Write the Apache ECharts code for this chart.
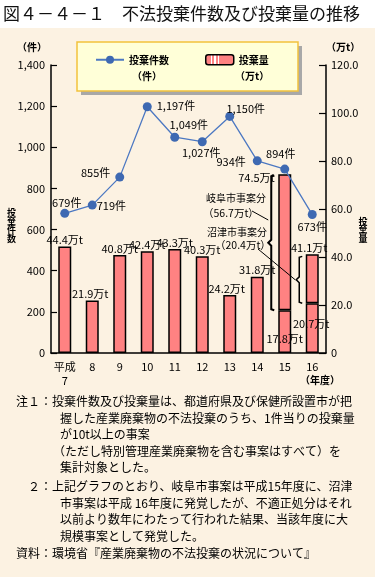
<!DOCTYPE html>
<html>
<head>
<meta charset="utf-8">
<script src="https://cdn.jsdelivr.net/npm/echarts@6/dist/echarts.min.js"></script>
<style>
  html, body { margin: 0; padding: 0; }
  #main { width: 375px; height: 577px; }
</style>
</head>
<body>
<div id="main"></div>
<script>
// fiscal years (平成)
var years = ['平成\n7', '8', '9', '10', '11', '12', '13', '14', '15', '16'];
// 投棄件数 (件)
var caseCounts = [679, 719, 855, 1197, 1049, 1027, 1150, 934, 894, 673];
// 投棄量 (万t), ordinary part
var amountBase = [44.4, 21.9, 40.8, 42.4, 43.3, 40.3, 24.2, 31.8, 17.8, 20.7];
// 投棄量 (万t), large single cases (岐阜市 / 沼津市)
var amountLarge = [null, null, null, null, null, null, null, null, 56.7, 20.4];

var FONT = '"Noto Sans CJK JP", "Noto Sans", sans-serif';
var PINK = '#FF8282';

// where each line label sits
var caseLabelPos = ['top', 'right', 'left', 'right', 'top', 'bottom', 'top', 'left', 'top', 'bottom'];
var caseLabelOff = [[2, 4], [-5, 1], [0, -4], [0, -1], [14, 3], [-1, -4], [16, 7], [-2, 1], [-4, 0], [0, -3]];

var legendStripe = new echarts.graphic.LinearGradient(0, 0, 1, 0, [
  { offset: 0, color: PINK }, { offset: 0.2, color: PINK },
  { offset: 0.2, color: '#fff' }, { offset: 0.24, color: '#fff' },
  { offset: 0.24, color: PINK }, { offset: 0.32, color: PINK },
  { offset: 0.32, color: '#fff' }, { offset: 0.36, color: '#fff' },
  { offset: 0.36, color: PINK }, { offset: 0.44, color: PINK },
  { offset: 0.44, color: '#fff' }, { offset: 0.48, color: '#fff' },
  { offset: 0.48, color: PINK }, { offset: 1, color: PINK }
]);

var baseData = amountBase.map(function (v, i) {
  var item = { value: v, label: { show: true, position: 'top', distance: 1 } };
  if (i === 1) item.label.offset = [-2, 0];
  if (i === 6) item.label.offset = [-3, 0];
  if (i === 8) { item.label.position = 'insideBottom'; item.label.offset = [0, -8]; }
  if (i === 9) { item.label.position = 'inside'; item.label.offset = [-1, -4]; }
  return item;
});

var largeData = amountLarge.map(function (v, i) {
  if (v === null) return null;
  var item = { value: v, label: { show: true, position: 'top', distance: 1, offset: [-3, 0] } };
  if (i === 8) {
    item.label = { show: true, position: [-40, -2], align: 'left', verticalAlign: 'top' };
  }
  return item;
});

var caseData = caseCounts.map(function (v, i) {
  return { value: v, label: { show: true, position: caseLabelPos[i], offset: caseLabelOff[i] } };
});

var chart = echarts.init(document.getElementById('main'));

var option = {
  backgroundColor: '#FCF2E2',
  animation: false,
  textStyle: { fontFamily: FONT },
  grid: { left: 51, right: 49, top: 65, bottom: 224 },
  legend: {
    left: 77,
    top: 42,
    padding: [12, 30, 23, 18],
    itemGap: 36,
    itemWidth: 28,
    itemHeight: 10,
    backgroundColor: 'transparent',
    textStyle: { fontSize: 10, fontWeight: 'bold', color: '#000', fontFamily: FONT },
    data: [
      { name: '投棄件数' },
      { name: '投棄量', itemStyle: { color: legendStripe, borderColor: '#000', borderWidth: 1.5 } }
    ]
  },
  xAxis: {
    type: 'category',
    data: years,
    boundaryGap: true,
    axisLine: { lineStyle: { color: '#000', width: 1.5 } },
    axisTick: { inside: true, length: 8, interval: 0, lineStyle: { color: '#000', width: 1.2 } },
    axisLabel: { interval: 0, color: '#000', fontSize: 11, margin: 7, lineHeight: 14, fontFamily: FONT }
  },
  yAxis: [
    {
      type: 'value',
      min: 0, max: 1400, interval: 200,
      splitLine: { show: false },
      axisLine: { show: true, lineStyle: { color: '#000', width: 1.5 } },
      axisTick: { show: true, inside: true, length: 6, lineStyle: { color: '#000', width: 1.2 } },
      axisLabel: {
        color: '#000', fontSize: 11, margin: 6, fontFamily: FONT,
        formatter: function (v) { return v.toLocaleString('en-US'); }
      }
    },
    {
      type: 'value',
      min: 0, max: 120, interval: 20,
      splitLine: { show: false },
      axisLine: { show: true, lineStyle: { color: '#000', width: 1.5 } },
      axisTick: { show: true, inside: true, length: 7, lineStyle: { color: '#000', width: 1.2 } },
      axisLabel: {
        color: '#000', fontSize: 11, margin: 5, fontFamily: FONT,
        formatter: function (v) { return v === 0 ? '0' : v.toFixed(1); }
      }
    }
  ],
  series: [
    {
      name: '投棄量',
      type: 'bar',
      yAxisIndex: 1,
      stack: 'amount',
      barWidth: 13,
      data: baseData,
      itemStyle: { color: PINK, borderColor: '#000', borderWidth: 1.5 },
      label: {
        color: '#000', fontSize: 11, fontFamily: FONT,
        formatter: function (p) { return p.value.toFixed(1) + '万t'; }
      },
      z: 2
    },
    {
      name: '投棄量',
      type: 'bar',
      yAxisIndex: 1,
      stack: 'amount',
      barWidth: 13,
      data: largeData,
      itemStyle: { color: PINK, borderColor: '#000', borderWidth: 1.5 },
      label: {
        color: '#000', fontSize: 11, fontFamily: FONT,
        formatter: function (p) {
          return (amountBase[p.dataIndex] + p.value).toFixed(1) + '万t';
        }
      },
      z: 2
    },
    {
      name: '投棄件数',
      type: 'line',
      yAxisIndex: 0,
      data: caseData,
      symbol: 'circle',
      symbolSize: 9,
      lineStyle: { color: '#4C78C2', width: 1.3 },
      itemStyle: { color: '#3E69B2' },
      label: {
        color: '#000', fontSize: 11, fontFamily: FONT,
        formatter: function (p) { return p.value.toLocaleString('en-US') + '件'; }
      },
      z: 5
    }
  ]
};

chart.setOption(option);

// helpers for the decorative parts
function txt(x, y, s, size, extra) {
  var st = {
    text: s, fill: '#000', fontFamily: FONT, fontSize: size,
    align: 'left', verticalAlign: 'middle'
  };
  for (var k in extra) st[k] = extra[k];
  return { type: 'text', x: x, y: y, style: st, z: 10 };
}
function pxAt(i, v) { return chart.convertToPixel({ seriesIndex: 0 }, [i, v]); }

function brace(x, y1, y2, w) {
  var ym = (y1 + y2) / 2;
  return {
    type: 'polyline', z: 10,
    shape: { points: [[x + 3, y1], [x, y1 + 1], [x, ym - 3], [x - 3, ym], [x, ym + 3], [x, y2 - 1], [x + 3, y2]] },
    style: { stroke: '#000', lineWidth: w, fill: null }
  };
}

var t15 = pxAt(8, amountBase[8] + amountLarge[8]);
var b15 = pxAt(8, amountBase[8]);
var t16 = pxAt(9, amountBase[9] + amountLarge[9]);
var b16 = pxAt(9, amountBase[9]);
var bx1 = t15[0] - 13.5;
var bx2 = t16[0] - 13;
var mid2 = (t16[1] + 2 + b16[1]) / 2;

var notes = [
  [16, 401.5, '注１：投棄件数及び投棄量は、都道府県及び保健所設置市が把'],
  [60, 418, '握した産業廃棄物の不法投棄のうち、1件当りの投棄量'],
  [60, 434.5, 'が10t以上の事案'],
  [53, 451, '（ただし特別管理産業廃棄物を含む事案はすべて）を'],
  [60, 467.5, '集計対象とした。'],
  [28, 486.5, '２：上記グラフのとおり、岐阜市事案は平成15年度に、沼津'],
  [60, 503, '市事案は平成 16年度に発覚したが、不適正処分はそれ'],
  [60, 519.5, '以前より数年にわたって行われた結果、当該年度に大'],
  [60, 536, '規模事案として発覚した。'],
  [16, 553, '資料：環境省『産業廃棄物の不法投棄の状況について』']
];

var graphics = [
  { type: 'rect', shape: { x: 0, y: 0, width: 375, height: 28 }, style: { fill: '#fff' }, z: 0 },
  // legend box with its grey drop shadow
  { type: 'rect', shape: { x: 81, y: 46, width: 221, height: 49 }, style: { fill: '#A8A8A8' }, z: 1 },
  { type: 'rect', shape: { x: 77, y: 42, width: 221, height: 49 },
    style: { fill: '#FFFFD8', stroke: '#F2C23C', lineWidth: 1.5 }, z: 1 },
  txt(3, 14, '図４－４－１　不法投棄件数及び投棄量の推移', 17, { fill: '#111' }),
  txt(17, 47.5, '（件）', 10, { fontWeight: 'bold' }),
  txt(326, 47.5, '（万t）', 10, { fontWeight: 'bold' }),
  txt(132, 76, '（件）', 10, { fontWeight: 'bold' }),
  txt(235, 76, '（万t）', 10, { fontWeight: 'bold' }),
  txt(11.5, 225.5, '投\n棄\n件\n数', 9, { align: 'center', lineHeight: 8.8, fontWeight: 'bold' }),
  txt(363, 230, '投\n棄\n量', 9, { align: 'center', lineHeight: 8.8, fontWeight: 'bold' }),
  txt(300, 380, '（年度）', 10, { fontWeight: 'bold' }),
  txt(266, 198, '岐阜市事案分', 10, { align: 'right' }),
  txt(203, 213, '（56.7万t）', 10.5, {}),
  txt(267, 232, '沼津市事案分', 10, { align: 'right' }),
  txt(215, 245, '（20.4万t）', 10.5, {}),
  brace(bx1, t15[1] + 1, b15[1], 2),
  brace(bx2, t16[1] + 2, b16[1], 1.5),
  { type: 'line', z: 10, shape: { x1: 252, y1: 211, x2: bx1 - 3, y2: 220 }, style: { stroke: '#000', lineWidth: 1 } },
  { type: 'line', z: 10, shape: { x1: 258, y1: 249, x2: bx2 - 4, y2: mid2 }, style: { stroke: '#000', lineWidth: 1 } }
];
notes.forEach(function (n) { graphics.push(txt(n[0], n[1], n[2], 12, {})); });

chart.setOption({ graphic: graphics });
</script>
</body>
</html>
